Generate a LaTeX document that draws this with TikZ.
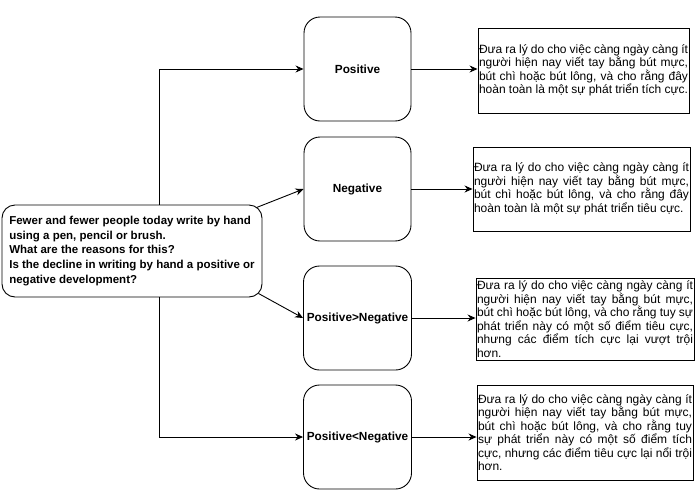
\documentclass[tikz,border=0pt]{standalone}
\usepackage{fontspec}
\setmainfont{Liberation Sans}
\usetikzlibrary{arrows.meta,positioning}

\tikzset{
  conn/.style={-{Stealth[length=8pt,width=7pt]},line width=0.9pt},
  optbox/.style={draw,line width=0.9pt,rounded corners=16pt,minimum width=107pt,minimum height=104pt,font=\fontsize{11.8}{13}\selectfont\bfseries},
  reasonbox/.style={draw,line width=0.9pt,inner xsep=1pt,inner ysep=0pt,align=justify,font=\fontsize{12}{13.5}\selectfont},
}

\begin{document}
\begin{tikzpicture}[x=1pt,y=-1pt]
  \useasboundingbox (0,0) rectangle (700,493);
  % question
  \node[draw,line width=0.9pt,rounded corners=13pt,minimum width=260pt,minimum height=92pt,inner xsep=2pt,align=left,font=\fontsize{11.5}{14.6}\selectfont\bfseries] (topic) at (132,251)
    {Fewer and fewer people today write by hand\\using a pen, pencil or brush.\\What are the reasons for this?\\Is the decline in writing by hand a positive or\\negative development?};
  % options
  \node[optbox] (pos) at (357.5,69) {Positive};
  \node[optbox] (neg) at (357.5,189) {Negative};
  \node[optbox] (pgn) at (357.5,318) {Positive>Negative};
  \node[optbox] (pln) at (357.5,437) {Positive<Negative};
  % reasons
  \node[reasonbox,text width=209pt,minimum height=85pt] (rpos) at (583.5,70.5)
    {Đưa ra lý do cho việc càng ngày càng ít\linebreak người hiện nay viết tay bằng bút mực,\linebreak bút chì hoặc bút lông, và cho rằng đây\linebreak hoàn toàn là một sự phát triển tích cực.};
  \node[reasonbox,text width=215pt,minimum height=84pt] (rneg) at (581.5,189)
    {Đưa ra lý do cho việc càng ngày càng ít\linebreak người hiện nay viết tay bằng bút mực,\linebreak bút chì hoặc bút lông, và cho rằng đây\linebreak hoàn toàn là một sự phát triển tiêu cực.};
  \node[reasonbox,text width=216pt,minimum height=82pt] (rpgn) at (585,319)
    {Đưa ra lý do cho việc càng ngày càng ít\linebreak người hiện nay viết tay bằng bút mực,\linebreak bút chì hoặc bút lông, và cho rằng tuy sự\linebreak phát triển này có một số điểm tiêu cực,\linebreak nhưng các điểm tích cực lại vượt trội\linebreak hơn.};
  \node[reasonbox,text width=214pt,minimum height=95pt] (rpln) at (585,432.5)
    {Đưa ra lý do cho việc càng ngày càng ít\linebreak người hiện nay viết tay bằng bút mực,\linebreak bút chì hoặc bút lông, và cho rằng tuy\linebreak sự phát triển này có một số điểm tích\linebreak cực, nhưng các điểm tiêu cực lại nổi trội\linebreak hơn.};
  % connectors
  \draw[conn] ([xshift=27pt]topic.north) |- (pos.west);
  \draw[conn] ([shift={(-6,3)}]topic.north east) -- (neg.west);
  \draw[conn] ([shift={(-4,-4)}]topic.south east) -- (pgn.west);
  \draw[conn] ([xshift=27pt]topic.south) |- (pln.west);
  \draw[conn] (pos.east) -- (pos.east -| rpos.west);
  \draw[conn] (neg.east) -- (neg.east -| rneg.west);
  \draw[conn] (pgn.east) -- (pgn.east -| rpgn.west);
  \draw[conn] (pln.east) -- (pln.east -| rpln.west);
\end{tikzpicture}
\end{document}
